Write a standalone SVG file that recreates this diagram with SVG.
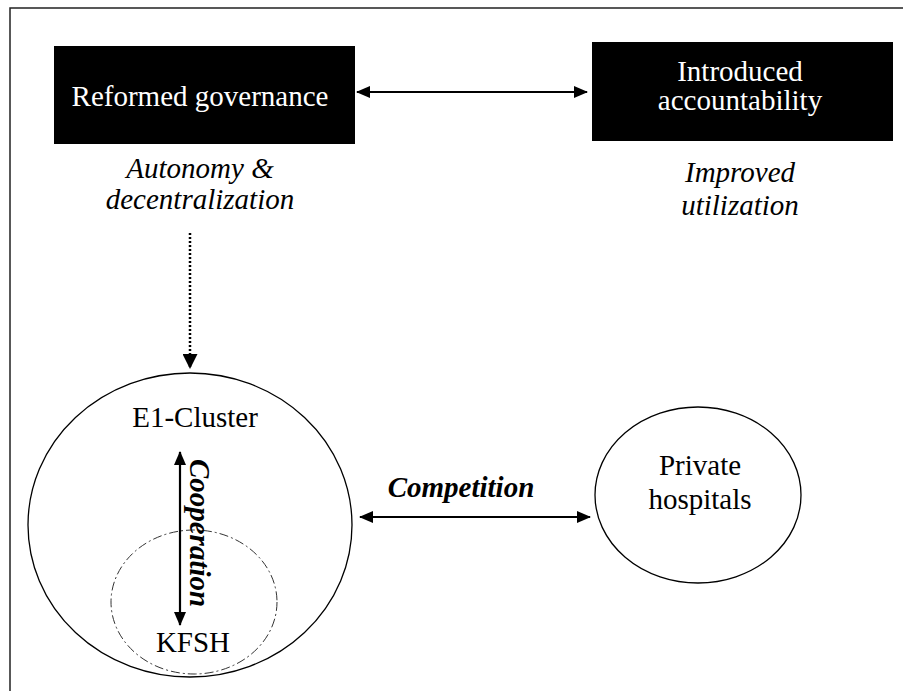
<svg xmlns="http://www.w3.org/2000/svg" width="903" height="691" viewBox="0 0 903 691">
<defs>
<style>
text{font-family:'Liberation Serif','Times New Roman','DejaVu Serif',serif;font-size:29px;text-anchor:middle;fill:#000}
.w{fill:#fff}
.i{font-style:italic}
.bi{font-style:italic;font-weight:bold}
.box{fill:#000}
.ell{fill:none;stroke:#000;stroke-width:1.3}
.dd{fill:none;stroke:#333;stroke-width:1;stroke-dasharray:9,3,2,3}
.arr{stroke:#000;stroke-width:2.2;fill:none}
.dot{stroke:#000;stroke-width:2.5;stroke-dasharray:2,2;fill:none}
</style>
<marker id="ah" viewBox="0 0 14 12" refX="13" refY="6" markerWidth="14" markerHeight="12" markerUnits="userSpaceOnUse" orient="auto-start-reverse">
<path d="M0,0 L14,6 L0,12 Z" fill="#000"/>
</marker>
<marker id="ahd" viewBox="0 0 15 15" refX="14" refY="7.5" markerWidth="15" markerHeight="15" markerUnits="userSpaceOnUse" orient="auto">
<path d="M0,0 L15,7.5 L0,15 Z" fill="#000"/>
</marker>
</defs>
<rect width="903" height="691" fill="#fff"/>
<rect x="10" y="8" width="1000" height="1000" fill="none" stroke="#222" stroke-width="1.5"/>

<g id="reformed">
<rect class="box" x="54" y="46" width="301" height="98"/>
<text class="w" x="200" y="106">Reformed governance</text>
<text class="i" x="200" y="178" font-size="27">Autonomy &amp;</text>
<text class="i" x="200" y="209" font-size="27">decentralization</text>
</g>

<g id="accountability">
<rect class="box" x="592" y="42" width="301" height="99"/>
<text class="w" x="740" y="81">Introduced</text>
<text class="w" x="740" y="110">accountability</text>
<text class="i" x="740" y="182">Improved</text>
<text class="i" x="740" y="215">utilization</text>
</g>

<g id="e1cluster">
<ellipse class="ell" cx="190" cy="525" rx="162" ry="152"/>
<text x="195" y="427">E1-Cluster</text>
</g>

<g id="kfsh">
<ellipse class="dd" cx="194" cy="602" rx="83" ry="72"/>
<text x="193" y="652">KFSH</text>
</g>

<g id="private">
<ellipse class="ell" cx="698" cy="495" rx="103" ry="88"/>
<text x="700" y="475">Private</text>
<text x="700" y="509">hospitals</text>
</g>

<g id="connectors">
<line class="arr" x1="357" y1="92" x2="587" y2="92" marker-start="url(#ah)" marker-end="url(#ah)"/>
<line class="dot" x1="190" y1="233" x2="190" y2="368" marker-end="url(#ahd)"/>
<line class="arr" x1="180" y1="452" x2="180" y2="625" marker-start="url(#ah)" marker-end="url(#ah)"/>
<text class="bi" transform="translate(190,533) rotate(90)">Cooperation</text>
<line class="arr" x1="360" y1="517" x2="590" y2="517" marker-start="url(#ah)" marker-end="url(#ah)"/>
<text class="bi" x="461" y="497">Competition</text>
</g>
</svg>
